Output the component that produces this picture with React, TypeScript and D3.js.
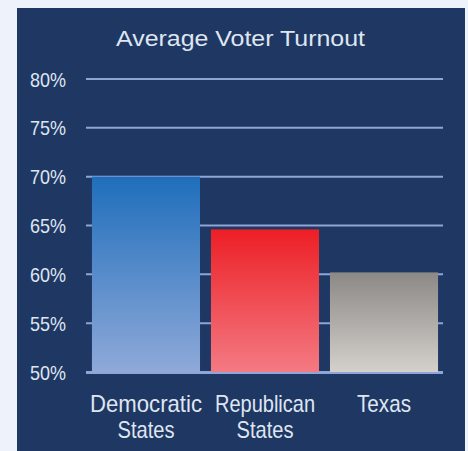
import React from "react";
import * as d3 from "d3";

const categories: string[][] = [["Democratic", "States"], ["Republican", "States"], ["Texas"]];
const values: number[] = [70.0, 64.6, 60.2];
const yTicks: number[] = [50, 55, 60, 65, 70, 75, 80];
const title = "Average Voter Turnout";
const gradients = [
  ["#1f6ebb", "#8fa9d9"],
  ["#ec1f25", "#f47a83"],
  ["#8b8885", "#d4d0cc"],
];

const W = 468;
const H = 451;

// approximate condensed widths of the label words (px)
const wordWidths: Record<string, number> = {
  Democratic: 112,
  Republican: 100,
  States: 57,
  Texas: 54,
};

export default function App() {
  const x = d3
    .scaleBand<number>()
    .domain(values.map((_, i) => i))
    .range([86, 444])
    .paddingInner(0.092)
    .paddingOuter(0.05);
  const y = d3.scaleLinear().domain([50, 80]).range([372, 79]);
  const font = "'Liberation Sans', Arial, sans-serif";
  const txt = "#dfe6f1";
  return (
    <div style={{ position: "absolute", left: 0, top: 0 }}>
      <svg width={W} height={H} style={{ display: "block" }}>
        <defs>
          {gradients.map((g, i) => (
            <linearGradient key={i} id={`g${i}`} x1="0" y1="0" x2="0" y2="1">
              <stop offset="0%" stopColor={g[0]} />
              <stop offset="100%" stopColor={g[1]} />
            </linearGradient>
          ))}
        </defs>
        <rect x={0} y={0} width={W} height={H} fill="#eef3fb" />
        <rect x={17} y={8} width={448} height={H - 8} fill="#1f3763" />
        <text
          x={240.5}
          y={46}
          textAnchor="middle"
          fill={txt}
          fontFamily={font}
          fontSize={22}
          textLength={249}
          lengthAdjust="spacingAndGlyphs"
        >
          {title}
        </text>
        {yTicks.map((t) => (
          <g key={t}>
            <line x1={86} x2={443} y1={y(t)} y2={y(t)} stroke="#8ea6d6" strokeWidth={2} />
            <text
              x={66}
              y={y(t)}
              dy="0.36em"
              textAnchor="end"
              fill={txt}
              fontFamily={font}
              fontSize={21}
              textLength={36}
              lengthAdjust="spacingAndGlyphs"
            >
              {`${t}%`}
            </text>
          </g>
        ))}
        {values.map((v, i) => (
          <rect
            key={i}
            x={x(i)}
            y={y(v)}
            width={x.bandwidth()}
            height={y(50) - y(v)}
            fill={`url(#g${i})`}
          />
        ))}
        <line x1={86} x2={443} y1={y(50) + 1} y2={y(50) + 1} stroke="#8ea6d6" strokeWidth={2} />
        {categories.map((lines, i) =>
          lines.map((l, j) => (
            <text
              key={`${i}-${j}`}
              x={(x(i) as number) + x.bandwidth() / 2}
              y={412 + j * 26}
              textAnchor="middle"
              fill={txt}
              fontFamily={font}
              fontSize={24}
              textLength={wordWidths[l]}
              lengthAdjust="spacingAndGlyphs"
            >
              {l}
            </text>
          ))
        )}
      </svg>
    </div>
  );
}
